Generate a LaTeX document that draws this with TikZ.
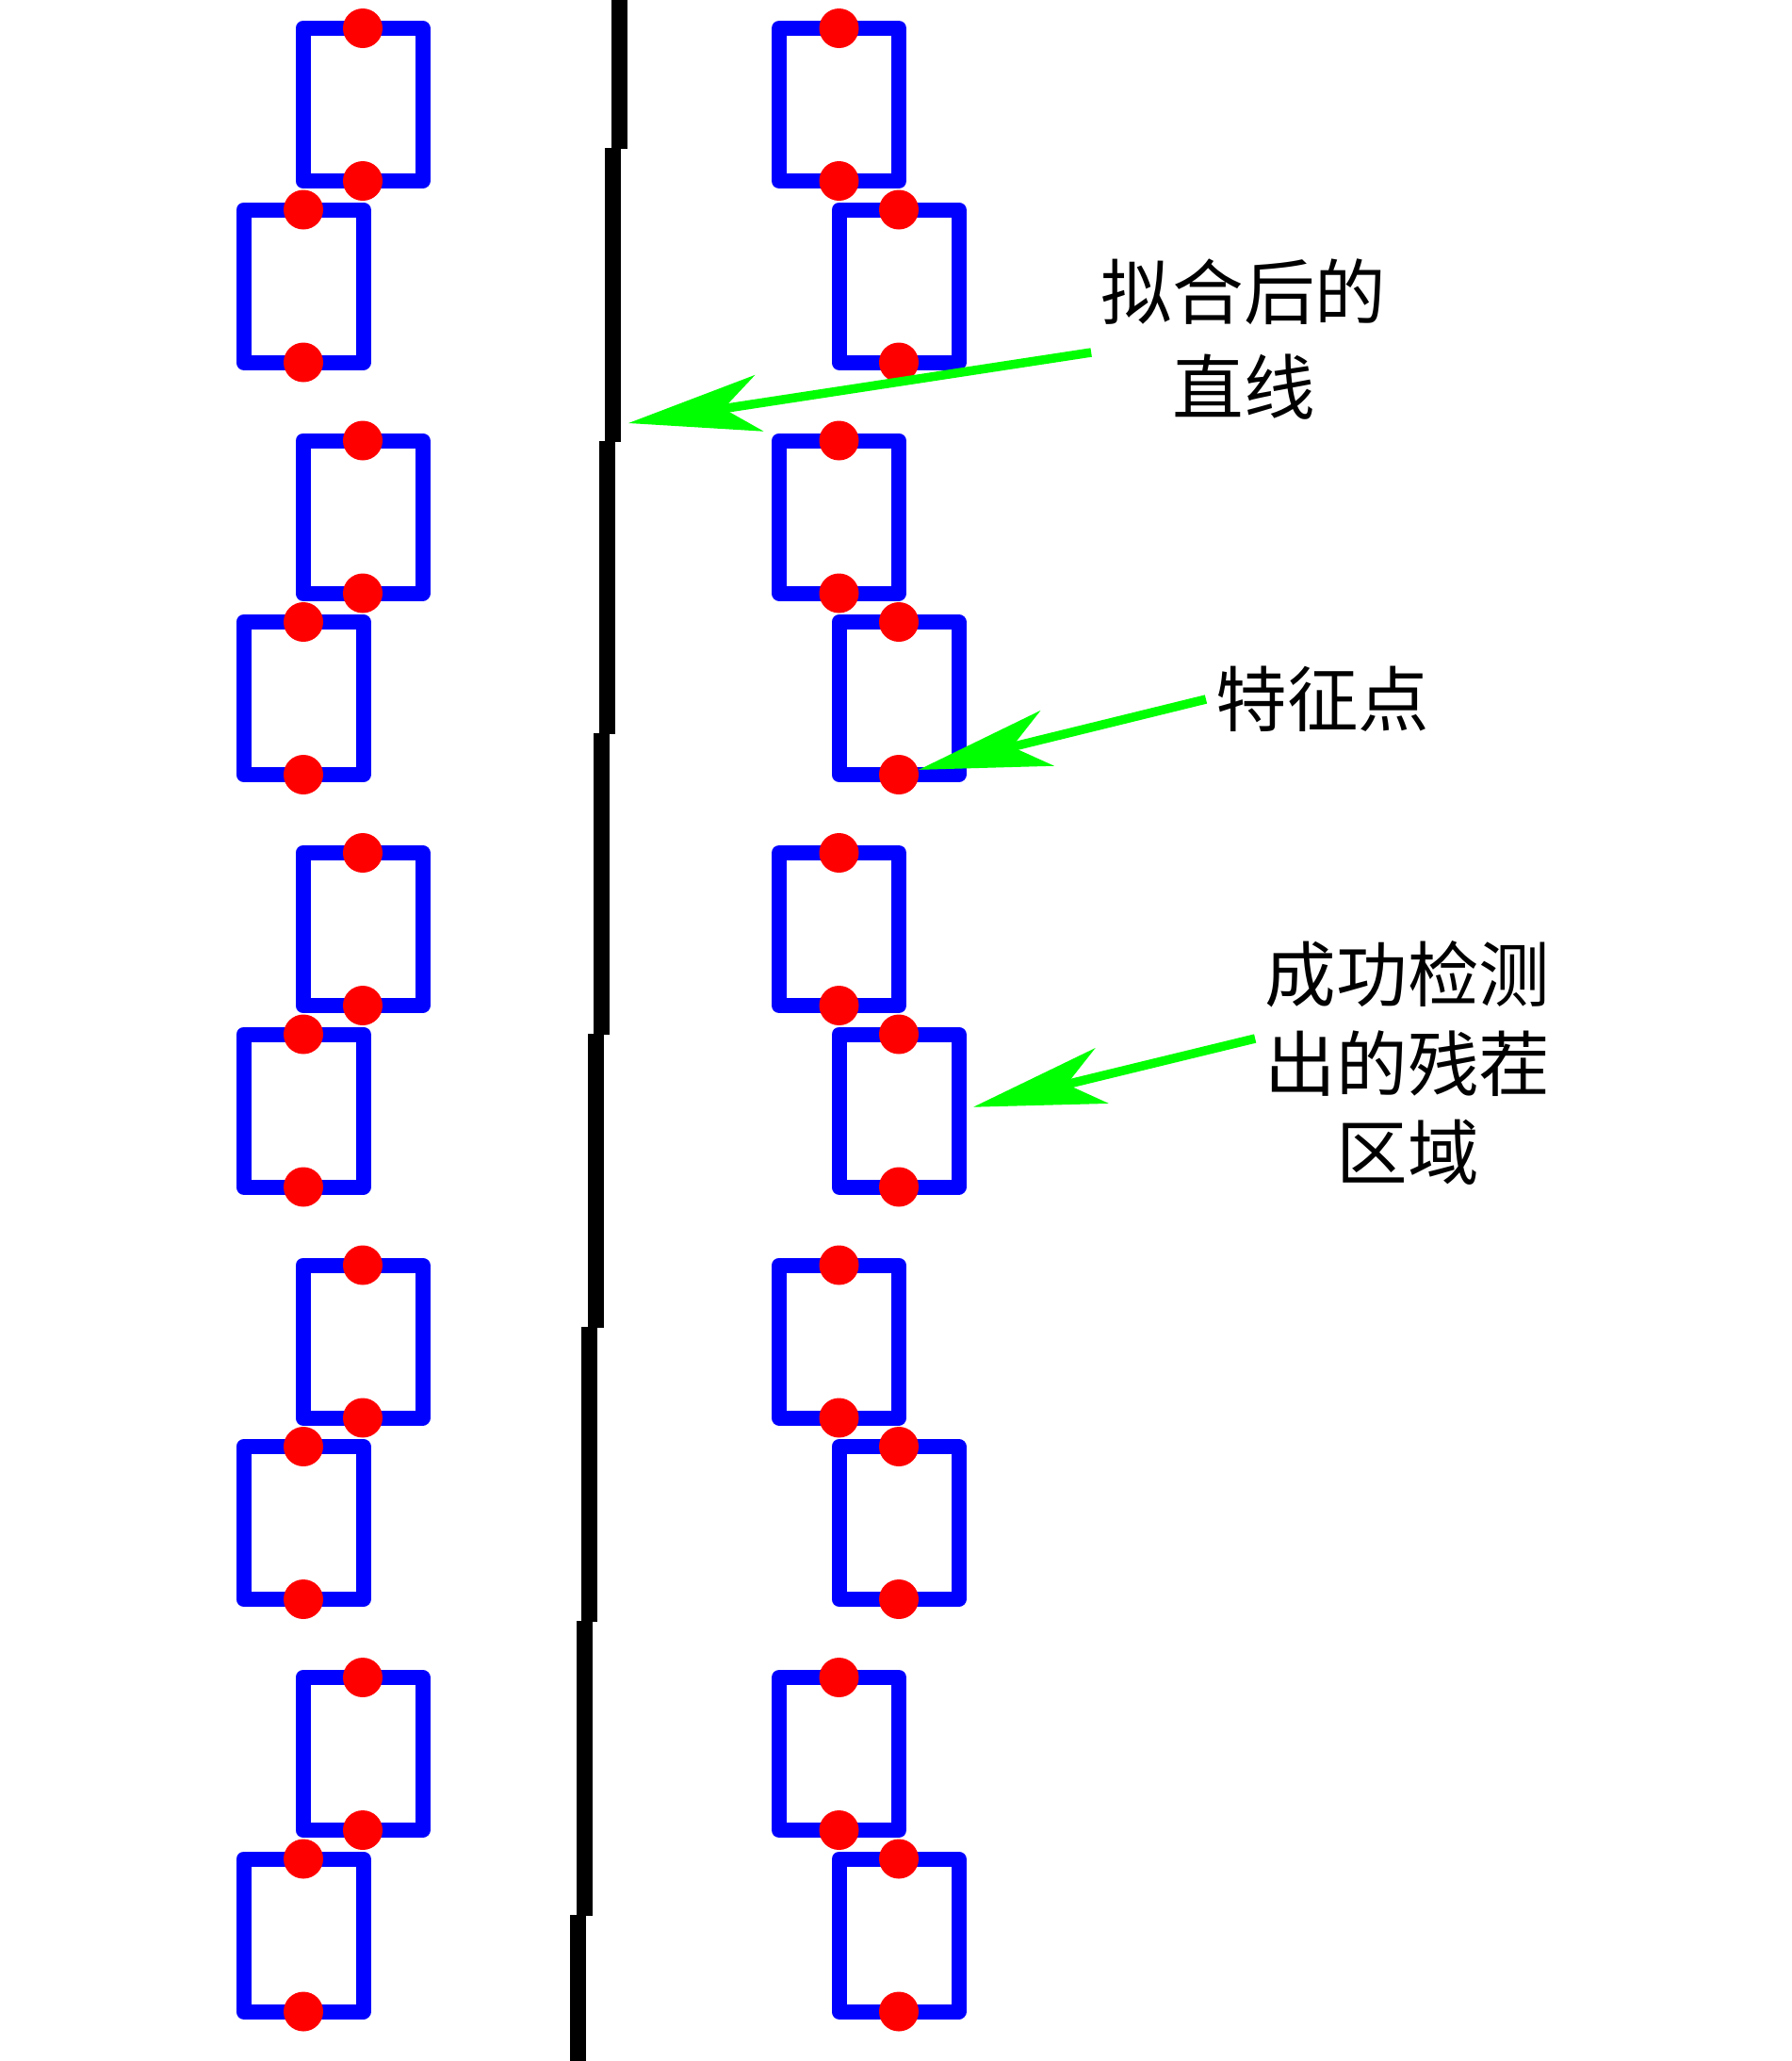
\documentclass[tikz,border=0pt]{standalone}
\usepackage{fontspec}
\newfontfamily\cjk{Noto Sans CJK SC}
\usetikzlibrary{arrows.meta}

\begin{document}
\begin{tikzpicture}[
    bbox/.style={draw=blue, line width=0.16cm, line join=round, outer sep=0pt,
        minimum width=1.27cm, minimum height=1.62cm, inner sep=0pt},
    featpt/.style={circle, fill=red, minimum size=0.42cm, inner sep=0pt},
    pointer/.style={draw=green, line width=0.095cm,
        -{Stealth[length=1.4cm, width=0.6cm, inset=0.38cm]}},
    lbl/.style={font=\cjk\fontsize{21.5}{27}\selectfont, align=center,
        inner ysep=0pt, inner xsep=0.1cm}
]
    \useasboundingbox (0,0) rectangle (19.01,-21.87);

    % fitted line, in short pieces
    \foreach \xx/\ya/\yb in {6.57/0/1.58, 6.50/1.57/4.69, 6.44/4.68/7.79,
        6.38/7.78/10.98, 6.32/10.97/14.09, 6.25/14.08/17.21,
        6.20/17.20/20.33, 6.13/20.32/21.87}
        \draw[line width=0.17cm] (\xx,-\ya) -- (\xx,-\yb);
    \coordinate (fitpt) at (6.67,-4.49);

    % stubble boxes, five rows on each side
    \foreach \k in {0,...,4} {
        \node[bbox] (lu\k) at (3.85,{-1.11-4.375*\k}) {};
        \node[bbox] (ll\k) at (3.22,{-3.035-4.375*\k}) {};
        \node[bbox] (ru\k) at (8.905,{-1.11-4.375*\k}) {};
        \node[bbox] (rl\k) at (9.54,{-3.035-4.375*\k}) {};
    }
    % feature points
    \foreach \k in {0,...,4} {
        \foreach \b in {lu,ll,ru,rl} {
            \node[featpt] (\b\k-n) at (\b\k.north) {};
            \node[featpt] (\b\k-s) at (\b\k.south) {};
        }
    }

    % labels
    \node[lbl, font=\cjk\fontsize{21.5}{29}\selectfont] (fitlbl) at (13.2,-3.6) {拟合后的\\直线};
    \node[lbl] (featlbl) at (14.04,-7.42) {特征点};
    \node[lbl] (detlbl) at (14.94,-11.28) {成功检测\\出的残茬\\区域};

    \draw[pointer] ([yshift=-0.14cm]fitlbl.west) -- (fitpt);
    \draw[pointer] (featlbl.west) -- (rl1-s);
    \draw[pointer, shorten >=0.16cm] ([yshift=0.26cm]detlbl.west) -- (rl2.east);
\end{tikzpicture}
\end{document}
